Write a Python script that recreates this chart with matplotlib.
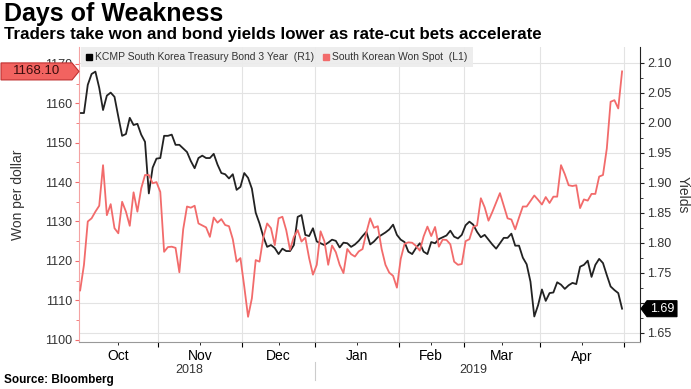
import matplotlib
matplotlib.use('Agg')
import matplotlib.pyplot as plt
import numpy as np
from matplotlib.lines import Line2D
from matplotlib.patches import Polygon
from matplotlib import transforms

# Trading days per month, Oct 2018 .. Apr 2019
months = ['Oct', 'Nov', 'Dec', 'Jan', 'Feb', 'Mar', 'Apr']
days_per_month = [21, 22, 19, 22, 17, 20, 22]
years = ['2018', '2019']

# South Korean Won Spot (left axis, won per dollar)
won = [
    1112.5, 1119.0, 1130.0, 1130.8, 1132.5, 1134.0, 1144.3, 1131.6, 1134.4, 1128.3,
    1127.0, 1135.0, 1132.5, 1128.9, 1137.4, 1132.5, 1138.4, 1141.8, 1141.8, 1139.7,
    1140.0, 1137.5, 1122.3, 1123.5, 1123.6, 1123.3, 1117.1, 1128.0, 1133.8, 1133.5,
    1134.0, 1129.5, 1129.0, 1128.5, 1126.1, 1131.0, 1129.7, 1130.6, 1129.1, 1128.8,
    1125.5, 1119.8, 1120.7, 1113.5, 1105.8, 1110.5, 1120.2, 1119.8, 1126.0, 1129.5,
    1128.3, 1124.0, 1130.8, 1131.2, 1127.8, 1122.8, 1126.1, 1127.8, 1124.9, 1125.9,
    1120.7, 1116.5, 1119.0, 1127.5, 1125.0, 1119.0, 1123.9, 1122.2, 1119.0, 1116.9,
    1123.0, 1121.7, 1121.1, 1122.4, 1123.0, 1127.2, 1130.8, 1128.4, 1128.8, 1123.0,
    1119.0, 1117.0, 1116.2, 1113.2, 1120.5, 1124.3, 1124.7, 1124.6, 1123.8, 1122.6,
    1126.2, 1128.7, 1126.3, 1128.6, 1123.6, 1125.4, 1125.3, 1124.2, 1119.8, 1119.0,
    1119.2, 1125.0, 1125.5, 1128.6, 1129.0, 1135.9, 1133.6, 1130.2, 1132.4, 1134.8,
    1137.2, 1134.0, 1130.8, 1130.5, 1128.0, 1131.0, 1133.8, 1133.8, 1135.2, 1136.6,
    1135.5, 1134.3, 1136.2, 1134.7, 1136.3, 1136.3, 1144.3, 1142.0, 1139.2, 1139.0,
    1139.2, 1133.4, 1135.6, 1135.3, 1137.0, 1137.0, 1141.4, 1141.8, 1148.5, 1160.4,
    1160.8, 1158.7, 1168.1,
]

# KCMP South Korea Treasury Bond 3 Year (right axis, yield %)
yields = [
    2.016, 2.016, 2.063, 2.081, 2.085, 2.058, 2.021, 2.045, 2.050, 2.043,
    2.010, 1.978, 1.981, 2.008, 1.996, 1.998, 1.980, 1.968, 1.882, 1.925,
    1.940, 1.941, 1.978, 1.978, 1.980, 1.963, 1.963, 1.957, 1.951, 1.936,
    1.924, 1.941, 1.945, 1.941, 1.941, 1.948, 1.930, 1.916, 1.914, 1.907,
    1.914, 1.888, 1.893, 1.916, 1.908, 1.890, 1.850, 1.832, 1.810, 1.793,
    1.796, 1.791, 1.781, 1.790, 1.786, 1.786, 1.796, 1.843, 1.846, 1.813,
    1.811, 1.824, 1.802, 1.799, 1.796, 1.800, 1.805, 1.803, 1.792, 1.800,
    1.799, 1.793, 1.797, 1.803, 1.811, 1.818, 1.797, 1.802, 1.809, 1.813,
    1.817, 1.822, 1.830, 1.813, 1.805, 1.801, 1.785, 1.781, 1.791, 1.799,
    1.785, 1.781, 1.801, 1.799, 1.806, 1.809, 1.812, 1.820, 1.810, 1.807,
    1.813, 1.829, 1.835, 1.830, 1.818, 1.809, 1.813, 1.805, 1.797, 1.790,
    1.799, 1.808, 1.808, 1.815, 1.795, 1.795, 1.775, 1.764, 1.735, 1.677,
    1.696, 1.722, 1.703, 1.716, 1.717, 1.734, 1.730, 1.723, 1.729, 1.733,
    1.731, 1.760, 1.763, 1.770, 1.743, 1.763, 1.773, 1.766, 1.746, 1.727,
    1.721, 1.716, 1.690,
]

RED = '#f26b6b'
TXT = '#333333'
GRID = '#e3e3e3'
plt.rcParams['font.family'] = ['Liberation Sans', 'DejaVu Sans']

W, H = 691, 389
fig = plt.figure(figsize=(W / 100, H / 100), dpi=100)
fig.patch.set_facecolor('white')

ax2 = fig.add_axes([79 / W, 1 - 342 / H, (640 - 79) / W, (342 - 47) / H])
ax = ax2.twinx()
# won axis on the left, yields on the right
ax.yaxis.tick_left()
ax.yaxis.set_label_position('left')
ax2.yaxis.tick_right()
ax2.yaxis.set_label_position('right')

x = np.arange(len(won))
bounds = np.cumsum(days_per_month) - 0.5
starts = np.concatenate([[-0.5], bounds[:-1]])
centers = (starts + bounds) / 2

# grid on the lower axes so the lines sit above it
for b in bounds:
    ax2.axvline(b, color=GRID, lw=0.8, zorder=0)
ax2.set_ylim(1.6345, 2.126)
rticks = np.arange(1.65, 2.101, 0.05)
ax2.set_yticks(rticks)
# the 1.70 label sits under the last-value tag
ax2.set_yticklabels(['' if abs(v - 1.70) < 1e-6 else f'{v:.2f}' for v in rticks])
ax2.set_yticks(np.arange(1.65, 2.11, 0.025), minor=True)
ax2.yaxis.grid(True, which='major', color=GRID, lw=0.8, zorder=0)
ax2.plot(x, yields, color='#222222', lw=1.3, zorder=3)

ax.plot(x, won, color=RED, lw=1.3, zorder=3)
ax.set_ylim(1099.4, 1174.3)
ax.set_yticks(np.arange(1100, 1171, 10))
ax.set_yticks(np.arange(1100, 1171, 5), minor=True)
ax.set_xlim(-0.3, 146.7)

# x axis: boundary ticks, month labels centred
ax.set_xticks(bounds)
ax.set_xticklabels([])
ax.set_xticks(centers, minor=True)
ax.set_xticklabels(months, minor=True)
ax.tick_params(axis='x', which='major', length=4, color='#999999', direction='out')
ax.tick_params(axis='x', which='minor', length=0, pad=2, labelsize=9, labelcolor=TXT)

ax.tick_params(axis='y', which='major', colors=RED, length=3, labelsize=9, labelcolor=TXT, pad=2)
ax.tick_params(axis='y', which='minor', colors=RED, length=2)
ax2.tick_params(axis='y', which='major', colors='#222222', length=3, labelsize=9, labelcolor=TXT, pad=2)
ax2.tick_params(axis='y', which='minor', colors='#222222', length=2)

for a in (ax, ax2):
    a.spines['top'].set_visible(False)
ax.spines['left'].set_color('#f4a3a3')
ax.spines['right'].set_color('#222222')
ax.spines['bottom'].set_color('#999999')
ax2.spines['left'].set_visible(False)
ax2.spines['bottom'].set_visible(False)
ax2.spines['right'].set_visible(False)

ax.set_ylabel('Won per dollar', fontsize=10, color=TXT, labelpad=14)
ax2.set_ylabel('Yields', fontsize=10, color=TXT, rotation=270, labelpad=13)

# year labels and separator under the month labels
trans = transforms.blended_transform_factory(ax.transData, ax.transAxes)
ax.text((starts[0] + bounds[2]) / 2 - 2, -0.075, years[0], transform=trans,
        ha='center', va='top', fontsize=9, color=TXT)
ax.text((bounds[2] + bounds[-1]) / 2 + 1, -0.075, years[1], transform=trans,
        ha='center', va='top', fontsize=9, color=TXT)
ax.add_line(Line2D([bounds[2], bounds[2]], [-0.068, -0.128], transform=trans,
                   color='#cccccc', lw=0.8, clip_on=False))

# legend
handles = [Line2D([], [], marker='s', color='black', ls='none', markersize=5),
           Line2D([], [], marker='s', color=RED, ls='none', markersize=5)]
labels = ['KCMP South Korea Treasury Bond 3 Year  (R1)', 'South Korean Won Spot  (L1)']
leg = ax.legend(handles, labels, loc='upper left', bbox_to_anchor=(0.003, 1.0), ncol=2,
                fontsize=7.5, frameon=True, fancybox=False, borderaxespad=0,
                handlelength=0.6, handletextpad=0.3, columnspacing=0.8, borderpad=0.5)
leg.get_frame().set_facecolor('#ececec')
leg.get_frame().set_edgecolor('none')
leg.get_frame().set_alpha(0.9)
for t in leg.get_texts():
    t.set_color(TXT)

# last-value tags
inv = fig.transFigure.inverted()
yl = inv.transform(ax.transData.transform((0, won[-1])))[1]
hh = 8.5 / H
fig.patches.append(Polygon([[1 / W, yl - hh], [72 / W, yl - hh], [79 / W, yl],
                            [72 / W, yl + hh], [1 / W, yl + hh]], closed=True,
                           transform=fig.transFigure, facecolor='#f26360',
                           edgecolor='#c03030', lw=0.8, zorder=5))
fig.text(37 / W, yl, f'{won[-1]:.2f}', ha='center', va='center', fontsize=9.5,
         color='#3a0d0d', zorder=6)

yr = inv.transform(ax2.transData.transform((0, yields[-1])))[1]
hh = 8 / H
fig.patches.append(Polygon([[641 / W, yr], [647 / W, yr + hh], [677 / W, yr + hh],
                            [677 / W, yr - hh], [647 / W, yr - hh]], closed=True,
                           transform=fig.transFigure, facecolor='black',
                           edgecolor='black', lw=0.8, zorder=5))
fig.text(662 / W, yr, f'{yields[-1]:.2f}', ha='center', va='center', fontsize=9,
         color='white', zorder=6)

# titles and source
fig.text(4 / W, 1 - 2 / H, 'Days of Weakness', ha='left', va='top',
         fontsize=18, fontweight='bold', color='black')
fig.text(4 / W, 1 - 27 / H, 'Traders take won and bond yields lower as rate-cut bets accelerate',
         ha='left', va='top', fontsize=12.2, fontweight='bold', color='black')
fig.text(4 / W, 1 - 374 / H, 'Source: Bloomberg', ha='left', va='top',
         fontsize=8.5, fontweight='bold', color='black')

fig.savefig('out.png', dpi=100, facecolor='white')
